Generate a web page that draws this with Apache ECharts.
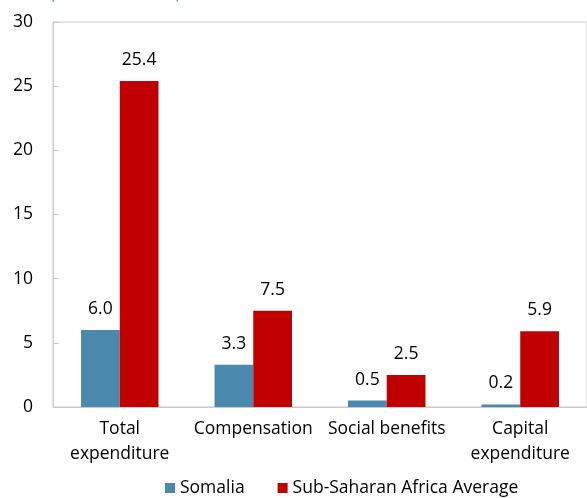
<!DOCTYPE html>
<html>
<head>
<meta charset="utf-8">
<script src="https://cdn.jsdelivr.net/npm/echarts@6/dist/echarts.min.js"></script>
<style>
  html, body { margin: 0; padding: 0; background: #fff; }
  #chart { width: 587px; height: 498px; }
</style>
</head>
<body>
<div id="chart"></div>
<script>
const categories = ['Total\nexpenditure', 'Compensation', 'Social benefits', 'Capital\nexpenditure']
const somalia = [6.0, 3.3, 0.5, 0.2]
const ssaAverage = [25.4, 7.5, 2.5, 5.9]
const seriesNames = ['Somalia', 'Sub-Saharan Africa Average']

const font = 'Open Sans'
const fs = 17.5
let chart = echarts.init(document.getElementById('chart'))
chart.setOption({
    animation: false,
    textStyle: { fontFamily: font },
    graphic: [{
        type: 'text',
        left: 50,
        top: -14,
        style: { text: '(Percent of GDP)', fill: '#4a86c5', font: '17px "Open Sans"' }
    }],
    grid: { left: 53, right: 0, top: 22, bottom: 91, show: true, borderColor: '#c8c8c8', borderWidth: 1 },
    legend: {
        bottom: -4,
        left: 160,
        itemWidth: 10,
        itemHeight: 10,
        itemGap: 33,
        icon: 'rect',
        textStyle: { fontSize: fs, color: '#000', fontFamily: font },
        data: seriesNames
    },
    xAxis: {
        type: 'category',
        data: categories,
        axisLine: { lineStyle: { color: '#c8c8c8' } },
        axisTick: { inside: true, length: 10, lineStyle: { color: '#c8c8c8' } },
        axisLabel: { fontSize: fs, color: '#000', lineHeight: 25, margin: 10, interval: 0 }
    },
    yAxis: {
        type: 'value',
        min: 0,
        max: 30,
        interval: 5,
        splitLine: { show: false },
        axisLine: { show: true, lineStyle: { color: '#c8c8c8' } },
        axisTick: { show: true, inside: true, length: 6, lineStyle: { color: '#c8c8c8' } },
        axisLabel: { fontSize: fs, color: '#000', margin: 20 }
    },
    series: [
        {
            name: seriesNames[0],
            type: 'bar',
            data: somalia,
            barGap: 0,
            barCategoryGap: '42%',
            itemStyle: { color: '#4a89ad' },
            label: { show: true, position: 'top', distance: 12, fontSize: fs, color: '#000', formatter: p => p.value.toFixed(1) }
        },
        {
            name: seriesNames[1],
            type: 'bar',
            data: ssaAverage,
            itemStyle: { color: '#c00000' },
            label: { show: true, position: 'top', distance: 12, fontSize: fs, color: '#000', formatter: p => p.value.toFixed(1) }
        }
    ]
})
</script>
</body>
</html>
